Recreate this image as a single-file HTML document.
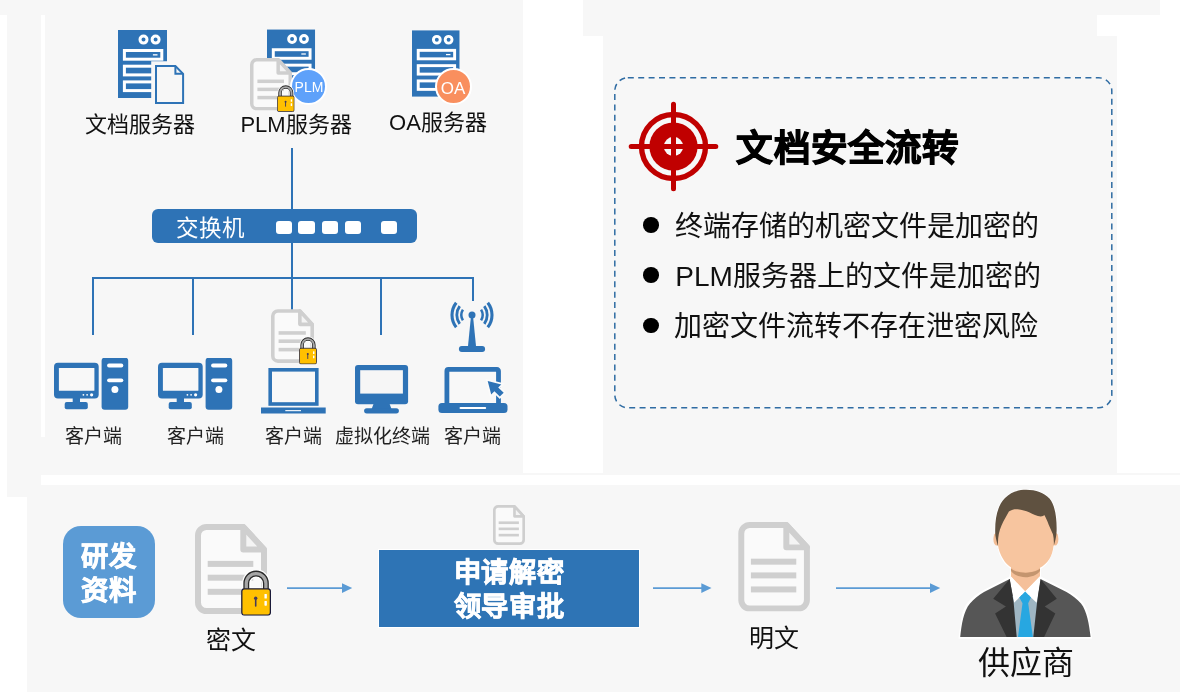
<!DOCTYPE html>
<html lang="zh-CN">
<head>
<meta charset="utf-8">
<title>文档安全流转</title>
<style>
html,body{margin:0;padding:0;}
body{width:1180px;height:692px;position:relative;overflow:hidden;background:#fff;font-family:"Liberation Sans",sans-serif;color:#111;}
.g{position:absolute;background:#f7f7f7;}
.w{position:absolute;background:#fff;}
.a{position:absolute;}
.t{position:absolute;white-space:nowrap;line-height:1;transform:translate(-50%,-50%);text-align:center;will-change:transform;}
.lbl{font-size:22px;color:#111;}
.cl{font-size:19px;color:#222;}
.bl{position:absolute;background:#2e73b6;}
.bt{font-size:28px;color:#111;}
.hv{font-size:27.3px;font-weight:bold;-webkit-text-stroke:0.7px #fff;color:#fff;letter-spacing:0.6px}
svg{position:absolute;overflow:visible;}
</style>
</head>
<body>
<!-- background panels -->
<div class="g" style="left:0;top:0;width:523px;height:15px"></div>
<div class="g" style="left:7px;top:15px;width:516px;height:460px"></div>
<div class="w" style="left:41px;top:15px;width:4px;height:422px"></div>
<div class="g" style="left:7px;top:475px;width:34px;height:22px"></div>
<div class="g" style="left:583px;top:0;width:577px;height:15px"></div>
<div class="g" style="left:583px;top:15px;width:514px;height:21px"></div>
<div class="g" style="left:603px;top:36px;width:514px;height:439px"></div>
<div class="g" style="left:523px;top:473px;width:657px;height:2px"></div>
<div class="g" style="left:27px;top:485px;width:1153px;height:207px"></div>

<!-- shared symbols -->
<svg width="0" height="0" style="position:absolute">
<defs>
<symbol id="server" viewBox="0 0 49 68">
  <rect width="49" height="68" fill="#2e73b6"/>
  <circle cx="25.5" cy="9.6" r="3.5" fill="#2e73b6" stroke="#fff" stroke-width="3"/>
  <circle cx="37.6" cy="9.6" r="3.5" fill="#2e73b6" stroke="#fff" stroke-width="3"/>
  <rect x="6.4" y="20.5" width="37.4" height="8.7" fill="#2e73b6" stroke="#fff" stroke-width="3"/>
  <rect x="6.4" y="36.2" width="37.4" height="8.7" fill="#2e73b6" stroke="#fff" stroke-width="3"/>
  <rect x="6.4" y="51.9" width="37.4" height="8.7" fill="#2e73b6" stroke="#fff" stroke-width="3"/>
  <rect x="34.9" y="24.2" width="4.6" height="1.3" fill="#fff"/>
</symbol>
<symbol id="doc" viewBox="0 0 72 90">
  <path d="M11.5,3 H48.3 L69,25.5 V78.5 a8.5,8.5 0 0 1 -8.5,8.5 H11.5 a8.5,8.5 0 0 1 -8.5,-8.5 V11.5 a8.5,8.5 0 0 1 8.5,-8.5 Z" fill="#fafafa" stroke="#cfcfcf" stroke-width="6" stroke-linejoin="round"/>
  <path d="M48.3,3 V25.5 H69 Z" fill="#f4f4f4" stroke="#cfcfcf" stroke-width="6" stroke-linejoin="round"/>
  <rect x="12.7" y="36.9" width="45.6" height="6" fill="#cfcfcf"/>
  <rect x="12.7" y="50.7" width="45.6" height="6" fill="#cfcfcf"/>
  <rect x="12.7" y="64.8" width="45.6" height="6" fill="#cfcfcf"/>
</symbol>
<symbol id="lock" viewBox="0 0 30 46">
  <path d="M5.15,20 V13.4 a9.85,9.85 0 0 1 19.7,0 V20" fill="none" stroke="#fff" stroke-width="8.5"/>
  <rect x="-0.8" y="17.5" width="31.6" height="29.3" rx="3.5" fill="#fff"/>
  <path d="M5.15,20 V13.4 a9.85,9.85 0 0 1 19.7,0 V20" fill="none" stroke="#2a2a2a" stroke-width="5.9"/>
  <path d="M5.15,20 V13.4 a9.85,9.85 0 0 1 19.7,0 V20" fill="none" stroke="#a6a6a6" stroke-width="3.3"/>
  <rect x="0.65" y="18.9" width="28.7" height="26.4" rx="2.5" fill="#ffc000" stroke="#1b1b3a" stroke-width="1.3"/>
  <circle cx="14.6" cy="28.4" r="1.7" fill="#463c5a"/>
  <path d="M14.6,28.4 V36.2" stroke="#463c5a" stroke-width="1.6" stroke-linecap="round"/>
  <rect x="23.4" y="24.1" width="2.4" height="4.5" rx="0.6" fill="#fff"/>
  <rect x="23.4" y="31.1" width="2.4" height="4.7" rx="0.6" fill="#fff"/>
</symbol>
<symbol id="pc" viewBox="0 0 75 52">
  <rect x="0" y="4.7" width="44.7" height="35.7" rx="4" fill="#2e73b6"/>
  <rect x="4.9" y="10" width="35.5" height="22.8" rx="0.6" fill="#f8f8f8"/>
  <circle cx="29.4" cy="36.8" r="0.9" fill="#fff"/>
  <circle cx="33.1" cy="36.8" r="0.9" fill="#fff"/>
  <circle cx="37.6" cy="36.8" r="1.6" fill="#fff"/>
  <rect x="18.7" y="40" width="7.3" height="5" fill="#2e73b6"/>
  <rect x="10.7" y="43.9" width="23.1" height="7.4" rx="2" fill="#2e73b6"/>
  <rect x="47.6" y="-0.3" width="26.6" height="52" rx="3" fill="#2e73b6"/>
  <rect x="53.1" y="5.6" width="16.2" height="3.8" rx="1.9" fill="#fff"/>
  <rect x="53.1" y="20.4" width="16.2" height="3.8" rx="1.9" fill="#fff"/>
  <circle cx="60.9" cy="31.4" r="3.5" fill="#fff"/>
</symbol>
</defs>
</svg>

<!-- NETWORK (top-left) -->
<svg style="left:118px;top:29.5px" width="49" height="68"><use href="#server"/></svg>
<svg style="left:155px;top:64.8px" width="29.1" height="39" viewBox="0 0 29.1 39">
  <path d="M0,0 H20 L29.1,9.1 V39 H0 Z" fill="#f7f7f7" stroke="#f7f7f7" stroke-width="7.6" stroke-linejoin="miter"/>
  <path d="M1,1 H20.4 L28.1,8.8 V38 H1 Z" fill="#f7f7f7" stroke="#2e73b6" stroke-width="2" stroke-linejoin="miter"/>
  <path d="M20.4,1 V8.8 H28.1" fill="none" stroke="#2e73b6" stroke-width="2"/>
</svg>
<div class="t lbl" style="left:139.8px;top:124.5px">文档服务器</div>

<svg style="left:267.3px;top:28.6px" width="48.2" height="68"><use href="#server"/></svg>
<svg style="left:249.7px;top:58px" width="42" height="52.6"><use href="#doc"/></svg>
<div class="a" style="left:289.9px;top:68px;width:33px;height:33px;border-radius:50%;background:#5ea1fa;border:2px solid #fff"></div>
<div class="t" style="left:308.5px;top:86.8px;font-size:14px;color:#fff">PLM</div>
<svg style="left:277px;top:84.6px" width="17.6" height="27"><use href="#lock"/></svg>
<div class="t lbl" style="left:296.4px;top:125px">PLM服务器</div>

<svg style="left:412.1px;top:29.5px" width="47.7" height="67"><use href="#server"/></svg>
<div class="a" style="left:434.7px;top:68.3px;width:33px;height:33px;border-radius:50%;background:#f98f5e;border:2px solid #fff"></div>
<div class="t" style="left:453.2px;top:87.5px;font-size:17px;color:#fff">OA</div>
<div class="t lbl" style="left:438.3px;top:122.5px">OA服务器</div>

<!-- lines -->
<div class="bl" style="left:291px;top:148.4px;width:2px;height:130px"></div>
<div class="bl" style="left:92.4px;top:277.2px;width:381.5px;height:2px"></div>
<div class="bl" style="left:92.4px;top:278px;width:2px;height:57.2px"></div>
<div class="bl" style="left:192.1px;top:278px;width:2px;height:57.2px"></div>
<div class="bl" style="left:291px;top:278px;width:2px;height:32px"></div>
<div class="bl" style="left:380.2px;top:278px;width:2px;height:57.2px"></div>
<div class="bl" style="left:471.8px;top:278px;width:2px;height:23px"></div>

<!-- switch -->
<div class="a" style="left:152px;top:208.6px;width:265px;height:34.4px;border-radius:6px;background:#2e73b6"></div>
<div class="t" style="left:209.8px;top:229.2px;font-size:22.5px;color:#fff">交换机</div>
<div class="w" style="left:275.5px;top:221.4px;width:16.3px;height:12.2px;border-radius:3px"></div>
<div class="w" style="left:298.4px;top:221.4px;width:16.3px;height:12.2px;border-radius:3px"></div>
<div class="w" style="left:321.5px;top:221.4px;width:16.3px;height:12.2px;border-radius:3px"></div>
<div class="w" style="left:344.7px;top:221.4px;width:16.3px;height:12.2px;border-radius:3px"></div>
<div class="w" style="left:381px;top:221.4px;width:16.3px;height:12.2px;border-radius:3px"></div>

<!-- clients -->
<svg style="left:53.9px;top:358.2px" width="75" height="52"><use href="#pc"/></svg>
<svg style="left:157.9px;top:358.2px" width="75" height="52"><use href="#pc"/></svg>
<div class="t cl" style="left:93.1px;top:436px">客户端</div>
<div class="t cl" style="left:194.8px;top:436px">客户端</div>


<!-- client 3: laptop with encrypted doc -->
<svg style="left:271px;top:309.1px" width="43" height="54"><use href="#doc"/></svg>
<svg style="left:298.6px;top:336.6px" width="18" height="27.4"><use href="#lock"/></svg>
<svg style="left:261px;top:368px" width="65" height="46" viewBox="0 0 65 46">
  <rect x="9.2" y="1.8" width="46.6" height="34.2" fill="#f8f8f8" stroke="#2e73b6" stroke-width="3.6"/>
  <rect x="0" y="39.5" width="64.7" height="6" fill="#2e73b6"/>
  <rect x="24.3" y="42.1" width="15.7" height="1.1" fill="#fff"/>
</svg>
<div class="t cl" style="left:292.9px;top:436px">客户端</div>

<!-- client 4: virtual terminal monitor -->
<svg style="left:355.1px;top:365.1px" width="53.1" height="48.6" viewBox="0 0 53.1 48.6">
  <rect x="0" y="0" width="53.1" height="39.3" rx="3" fill="#2e73b6"/>
  <rect x="5.2" y="5.2" width="42.7" height="23.4" fill="#f6f6f6"/>
  <path d="M18.5,39 H34.6 L36.5,44 H16.6 Z" fill="#2e73b6"/>
  <rect x="9.1" y="43.2" width="34.8" height="5.2" rx="2.6" fill="#2e73b6"/>
</svg>
<div class="t cl" style="left:382.3px;top:436px">虚拟化终端</div>

<!-- client 5: wireless laptop -->
<svg style="left:442.3px;top:294.8px" width="60" height="60" viewBox="0 0 60 60">
  <g fill="none" stroke="#2e73b6">
    <path d="M20.91,14.54 A10.6,10.6 0 0 0 20.91,25.46" stroke-width="2.5"/>
    <path d="M39.09,14.54 A10.6,10.6 0 0 1 39.09,25.46" stroke-width="2.5"/>
    <path d="M17.70,11.07 A15.2,15.2 0 0 0 17.70,28.93" stroke-width="2.8"/>
    <path d="M42.30,11.07 A15.2,15.2 0 0 1 42.30,28.93" stroke-width="2.8"/>
    <path d="M14.24,7.69 A20,20 0 0 0 14.24,32.31" stroke-width="3.1"/>
    <path d="M45.76,7.69 A20,20 0 0 1 45.76,32.31" stroke-width="3.1"/>
  </g>
  <circle cx="30" cy="20" r="3.5" fill="#2e73b6"/>
  <path d="M29.1,20 H30.9 L34.1,52 H25.9 Z" fill="#2e73b6"/>
  <rect x="16.9" y="51.1" width="26.2" height="5.8" rx="2.9" fill="#2e73b6"/>
</svg>
<svg style="left:437.6px;top:367px" width="70" height="47" viewBox="0 0 70 47">
  <path d="M8.9,37 V3.9 a1.5,1.5 0 0 1 1.5,-1.5 H59 a1.5,1.5 0 0 1 1.5,1.5 V37" fill="#f8f8f8" stroke="#2e73b6" stroke-width="4.8"/>
  <rect x="0.4" y="36.1" width="69.1" height="9.8" rx="3.5" fill="#2e73b6"/>
  <rect x="21.5" y="39.9" width="26.7" height="2.2" rx="1" fill="#fff"/>
  <path d="M49.7,14.1 L63.3,17.4 L60.2,20.4 L65.7,25.8 L61.8,29.6 L56.4,24.2 L53.2,27.4 Z" fill="#2e73b6" stroke="#fbfbfb" stroke-width="3.4" stroke-linejoin="miter" paint-order="stroke"/>
</svg>
<div class="t cl" style="left:472.4px;top:436px">客户端</div>

<!-- RIGHT PANEL -->
<svg style="left:614px;top:77.3px" width="499" height="332" viewBox="0 0 499 332">
  <rect x="0.8" y="0.8" width="497" height="330" rx="13" fill="none" stroke="#2f6ca3" stroke-width="1.5" stroke-dasharray="6 4.4"/>
</svg>
<svg style="left:628.1px;top:100.6px" width="91" height="91" viewBox="0 0 91 91">
  <circle cx="45.5" cy="45.5" r="32" fill="none" stroke="#c00000" stroke-width="5.4"/>
  <circle cx="45.5" cy="45.5" r="24.1" fill="#c00000"/>
  <circle cx="45.5" cy="45.5" r="9.7" fill="#f7f7f7"/>
  <path d="M3.2,45.5 H87.8 M45.5,3.2 V87.8" stroke="#c00000" stroke-width="5" stroke-linecap="round" fill="none"/>
</svg>
<div class="t" style="left:847.5px;top:148.6px;font-size:36.5px;font-weight:bold;letter-spacing:1.2px;-webkit-text-stroke:1.1px #000;color:#000">文档安全流转</div>

<div class="a" style="left:643.3px;top:217.1px;width:15.6px;height:15.6px;border-radius:50%;background:#000"></div>
<div class="a" style="left:643.3px;top:267.4px;width:15.6px;height:15.6px;border-radius:50%;background:#000"></div>
<div class="a" style="left:643.3px;top:317.7px;width:15.6px;height:15.6px;border-radius:50%;background:#000"></div>
<div class="t bt" style="left:856.5px;top:227.2px">终端存储的机密文件是加密的</div>
<div class="t bt" style="left:858.3px;top:277.2px">PLM服务器上的文件是加密的</div>
<div class="t bt" style="left:856.3px;top:327.2px">加密文件流转不存在泄密风险</div>


<!-- BOTTOM FLOW -->
<div class="a" style="left:63px;top:526.3px;width:92.2px;height:92.2px;border-radius:18px;background:#5b9bd5"></div>
<div class="t hv" style="left:109px;top:557.4px">研发</div>
<div class="t hv" style="left:109px;top:591px">资料</div>

<svg style="left:195.1px;top:524.4px" width="72" height="90"><use href="#doc"/></svg>
<svg style="left:241px;top:569.8px" width="30.2" height="45.8"><use href="#lock"/></svg>
<div class="t" style="left:230.7px;top:640px;font-size:25px;color:#111">密文</div>

<svg style="left:287.3px;top:582px" width="66" height="12" viewBox="0 0 66 12">
  <path d="M0,6.1 H57" stroke="#5b9bd5" stroke-width="1.6" fill="none"/><path d="M55,1.2 L65.2,6.1 L55,11 Z" fill="#5b9bd5"/>
</svg>

<svg style="left:492.9px;top:505.3px" width="32" height="40"><use href="#doc"/></svg>
<div class="a" style="left:377.6px;top:549.2px;width:260.8px;height:76.5px;background:#2e74b5;border:1px solid #fff"></div>
<div class="t hv" style="left:508.8px;top:573.4px">申请解密</div>
<div class="t hv" style="left:508.7px;top:607px">领导审批</div>

<svg style="left:652.7px;top:582px" width="60" height="12" viewBox="0 0 60 12">
  <path d="M0,6.1 H50" stroke="#5b9bd5" stroke-width="1.6" fill="none"/><path d="M48.3,1.2 L58.5,6.1 L48.3,11 Z" fill="#5b9bd5"/>
</svg>

<svg style="left:737.6px;top:522px" width="72.2" height="89.5"><use href="#doc"/></svg>
<div class="t" style="left:773.5px;top:637.5px;font-size:25px;color:#111">明文</div>

<svg style="left:835.8px;top:582px" width="106" height="12" viewBox="0 0 106 12">
  <path d="M0,6.1 H96" stroke="#5b9bd5" stroke-width="1.6" fill="none"/><path d="M94,1.2 L104.2,6.1 L94,11 Z" fill="#5b9bd5"/>
</svg>

<!-- supplier -->
<svg style="left:955px;top:485px" width="140" height="155" viewBox="955 485 140 155">
  <!-- white halo -->
  <path d="M998.1,546.5 C996.5,541 995,536 995.2,531 C995,517 998,505 1005,498 C1011,492 1018,489.8 1026.2,489.8 C1036,489.8 1044,493 1049.5,498.5 C1055,505 1057,518 1056.6,531.7 C1056.3,537 1055,542 1053.7,546 C1052,556 1046,566 1040,568.5 L1040.5,577 L1068,591.5 C1080,598 1086,604 1088.5,618 L1091.5,638 L959.2,638 L962,618 C964,606 969,600 981,592 L1010,577 L1011.5,568.5 C1005,565 999.5,556 998.1,546.5 Z" fill="#fff" stroke="#fff" stroke-width="1.4" stroke-linejoin="round"/>
  <!-- suit -->
  <path d="M960.2,637 C961.5,625 963.5,611 970,603.5 C974,599 978.5,595 984,592 L1009.7,579.1 L1025,600 L1040.5,579.1 L1066.5,592 C1072,595 1077,599 1081,603.5 C1087,611 1089.2,625 1090.6,637 Z" fill="#565656"/>
  <!-- shirt body -->
  <path d="M1012,596 L1038.5,596 L1035,637 L1015.5,637 Z" fill="#9fb6c3"/>
  <!-- neck -->
  <path d="M1011,558 H1040 V577 L1025.2,591.5 L1011,577 Z" fill="#f5c09a"/>
  <path d="M1011,568.5 C1017,574 1034,574 1040,568.5 V571 C1034,579.3 1017,579.3 1011,571 Z" fill="#c4956f"/>
  <!-- collar -->
  <path d="M1010.4,575.8 L1025.2,591.6 L1019.3,597.5 L1014.2,602.8 L1010,581 Z" fill="#fff"/>
  <path d="M1040.3,575.8 L1025.2,591.6 L1031,597.5 L1036.6,602.8 L1040.7,581 Z" fill="#fff"/>
  <!-- tie -->
  <path d="M1025.2,591.6 L1031,597.5 L1028.2,603.2 L1032.9,637 L1018,637 L1022.5,603.2 L1019.3,597.5 Z" fill="#27a7e1"/>
  <!-- lapels -->
  <path d="M1009.7,579.1 L993.2,598.8 L1005.9,606.4 L995.1,613.4 L1006.6,637 L1016.7,637 L1013.6,602 Z" fill="#333"/>
  <path d="M1040.5,579.1 L1056.8,598.8 L1044.7,606.4 L1055.3,613.4 L1044.1,637 L1033.3,637 L1037.1,602 Z" fill="#333"/>
  <!-- ears -->
  <ellipse cx="996.8" cy="539" rx="3.4" ry="6.6" fill="#f2bc94"/>
  <ellipse cx="1055" cy="539" rx="3.4" ry="6.6" fill="#f2bc94"/>
  <!-- hair -->
  <path d="M998.1,546.5 C996.5,541 995,536 995.2,531 C995,517 998,505 1005,498 C1011,492 1018,489.8 1026.2,489.8 C1036,489.8 1044,493 1049.5,498.5 C1055,505 1057,518 1056.6,531.7 C1056.3,537 1055,542 1053.7,546 L1052,533 L1000,533 Z" fill="#5f5140"/>
  <!-- face -->
  <path d="M998.8,534 C1000,528 1003,522 1005.3,518 L1008.9,511.5 C1012,509.5 1015,509 1017.6,509.3 C1022,509.8 1026,511 1029.1,512.2 C1033,514 1037,516.3 1040.7,516.5 C1042.5,516.5 1043.8,516 1044.3,515.1 C1046,518 1047.5,521.5 1048.6,524.5 L1053,534.6 C1053.8,538 1054,542 1053.7,545 C1053,551 1051.5,555.5 1049.4,559.1 C1046.5,563.5 1043.5,566 1040,567.8 C1035,570.8 1031,572.2 1026.2,572.2 C1021,572.2 1016.5,570.5 1011.8,567.8 C1008.5,566 1005.5,563.5 1003.1,559.1 C1000.5,554.5 998.5,550 998,545 C997.8,541 998.2,537.5 998.8,534 Z" fill="#f7c59f"/>
</svg>
<div class="t" style="left:1025.8px;top:663.2px;font-size:32px;color:#111">供应商</div>

<!--MORE-->
</body>
</html>
